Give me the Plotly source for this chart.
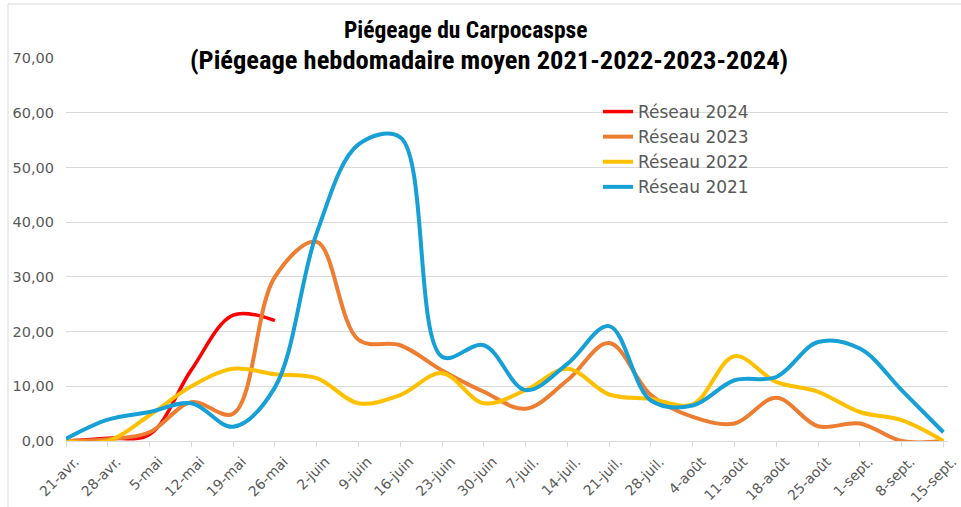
import plotly.graph_objects as go

# Weekly trap dates (category axis)
dates = ["21-avr.", "28-avr.", "5-mai", "12-mai", "19-mai", "26-mai", "2-juin",
         "9-juin", "16-juin", "23-juin", "30-juin", "7-juil.", "14-juil.",
         "21-juil.", "28-juil.", "4-août", "11-août", "18-août", "25-août",
         "1-sept.", "8-sept.", "15-sept."]

# Mean weekly captures per network year
reseau_2024 = [0.0, 0.5, 1.2, 13.0, 23.0, 22.0]
reseau_2023 = [0.0, 0.3, 1.6, 7.1, 5.0, 30.0, 36.4, 18.5, 17.5, 12.9, 9.0,
               5.9, 11.1, 17.9, 8.4, 4.4, 3.2, 7.9, 2.7, 3.2, 0.0, 0.0]
reseau_2022 = [0.0, 0.0, 4.7, 10.0, 13.2, 12.2, 11.5, 6.9, 8.4, 12.4, 6.9,
               9.3, 13.2, 8.5, 7.7, 6.7, 15.5, 10.8, 9.0, 5.3, 3.8, 0.0]
reseau_2021 = [0.4, 3.9, 5.3, 6.9, 2.6, 9.8, 38.0, 54.2, 55.5, 15.4, 17.5,
               9.3, 14.1, 21.0, 7.4, 6.5, 11.1, 11.7, 18.1, 16.9, 9.3, 1.6]

y_ticks = [0, 10, 20, 30, 40, 50, 60, 70]

series = [
    ("Réseau 2024", reseau_2024, "#FF0000", 3.5),
    ("Réseau 2023", reseau_2023, "#ED7D31", 4),
    ("Réseau 2022", reseau_2022, "#FFC000", 4),
    ("Réseau 2021", reseau_2021, "#16A0D6", 4),
]

W, H = 961, 507
ML, MR, MT, MB = 66, 13, 58, 66
PW, PH = W - ML - MR, H - MT - MB


def px(x):
    return (x - ML) / PW


def py(y):
    return (H - MB - y) / PH


fig = go.Figure()
for name, vals, color, lw in series:
    fig.add_trace(go.Scatter(
        x=dates[:len(vals)], y=vals, name=name, mode="lines",
        line=dict(color=color, width=lw, shape="spline", smoothing=1),
    ))

text_grey = "#595959"
grid_grey = "#d9d9d9"
base_font = "DejaVu Sans, Verdana, sans-serif"
title_font = "Liberation Sans Narrow, Arial Narrow, Roboto Condensed, sans-serif"

fig.update_layout(
    width=W, height=H, autosize=False,
    margin=dict(l=ML, r=MR, t=MT, b=MB, autoexpand=False),
    paper_bgcolor="white", plot_bgcolor="white",
    separators=", ",
    font=dict(family=base_font, color=text_grey, size=14),
    showlegend=True,
    legend=dict(
        x=px(598), y=py(94), xanchor="left", yanchor="top",
        bgcolor="rgba(0,0,0,0)", font=dict(size=17, color=text_grey),
        itemwidth=30,
    ),
    xaxis=dict(
        type="category", categoryorder="array", categoryarray=dates,
        range=[0, len(dates) - 1 + 0.11], automargin=False,
        showgrid=False, showline=True, linecolor=grid_grey, linewidth=1,
        ticks="outside", ticklen=5, tickcolor=grid_grey, tickangle=-45,
        tickfont=dict(size=14, color=text_grey),
        ticklabelshift=9, ticklabelstandoff=1,
        zeroline=False,
    ),
    yaxis=dict(
        range=[0, 70], tickvals=y_ticks, tickformat=".2f", automargin=False,
        showgrid=True, gridcolor=grid_grey, gridwidth=1,
        zeroline=False, showline=False, ticks="",
        tickfont=dict(size=14.5, color=text_grey),
        ticklabelstandoff=11,
    ),
    shapes=[dict(
        type="rect", xref="paper", yref="paper",
        x0=px(8), x1=px(1100), y0=py(700), y1=py(4),
        line=dict(color=grid_grey, width=1), fillcolor="rgba(0,0,0,0)",
        layer="below",
    )],
    annotations=[
        dict(text="<b>Piégeage du Carpocaspse</b>", xref="paper", yref="paper",
             x=px(465), y=py(30), xanchor="center", yanchor="middle",
             showarrow=False, font=dict(family=title_font, size=23.5, color="#000000")),
        dict(text="<b>(Piégeage hebdomadaire moyen 2021-2022-2023-2024)</b>",
             xref="paper", yref="paper",
             x=px(489), y=py(59), xanchor="center", yanchor="middle",
             showarrow=False, font=dict(family=title_font, size=26.5, color="#000000")),
    ],
)

fig.write_html("out.html")
